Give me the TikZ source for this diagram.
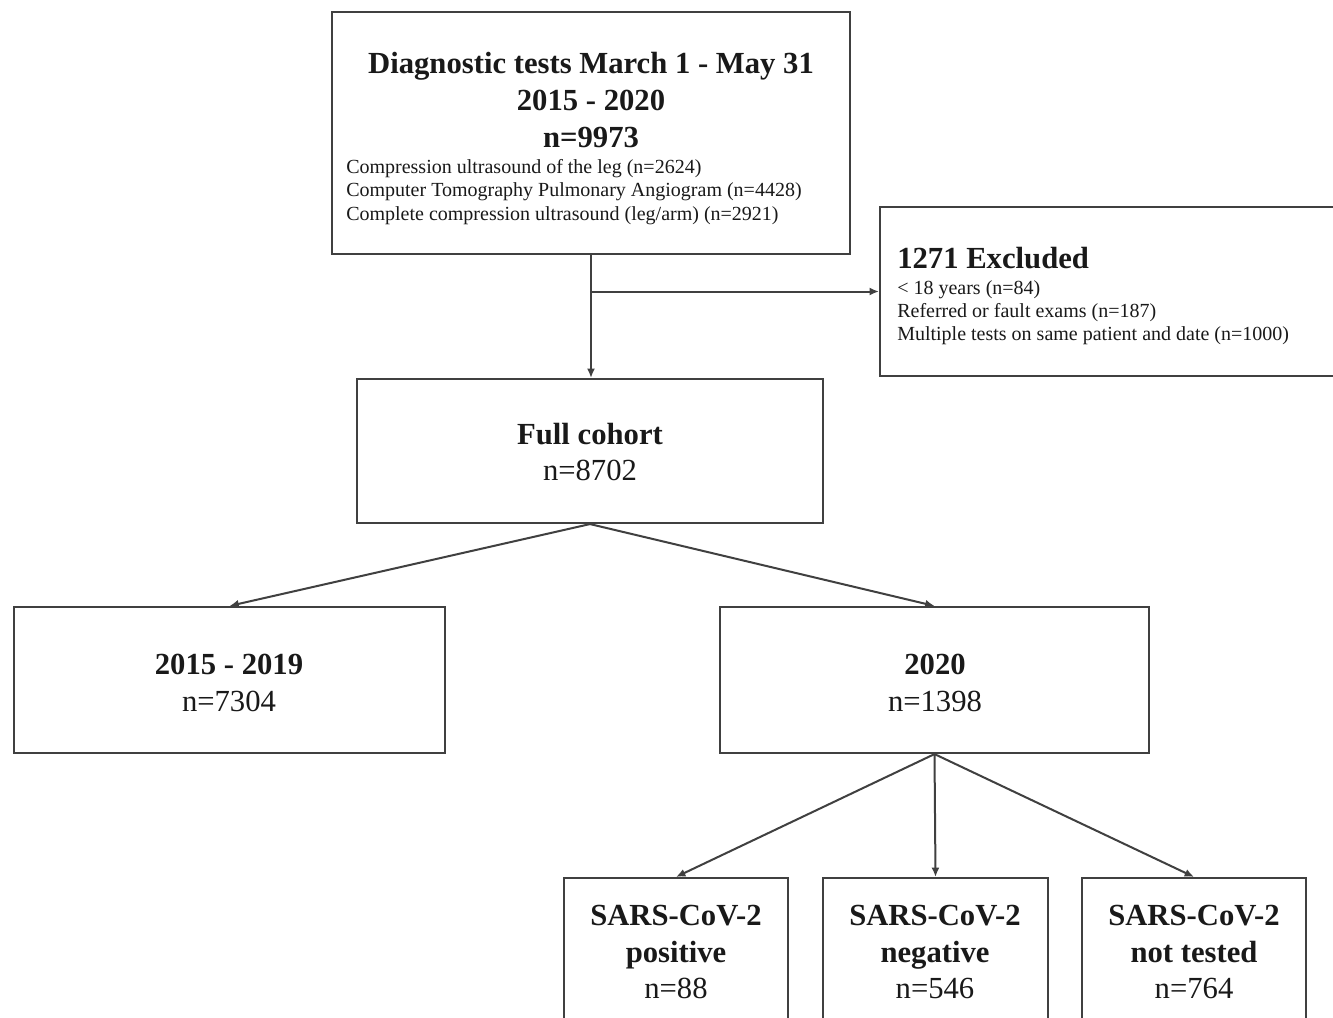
\documentclass[tikz,border=0pt]{standalone}
\usepackage{fontspec}
\setmainfont{Liberation Serif}
\usetikzlibrary{arrows.meta,fit}
\begin{document}
\begin{tikzpicture}[x=0.75pt,y=-0.75pt,
 box/.style={draw=black!75,line width=1.6pt,inner sep=0pt},
 big/.style={font=\fontsize{23}{27.5}\selectfont,align=center,inner sep=0pt,text=black!90},
 small/.style={font=\fontsize{15}{17.5}\selectfont,align=left,inner sep=0pt,anchor=west,text=black!90},
 conn/.style={draw=black!75,line width=1.5pt,-{Latex[length=7pt,width=6pt]}}]
\useasboundingbox[fill=white] (0,0) rectangle (1333,1017);
% boxes
\node[box,fit={(332,12)(850,254)}] (top) {};
\node[box,fit={(880,207)(1350,376)}] (excl) {};
\node[box,fit={(357,379)(823,523)}] (full) {};
\node[box,fit={(14,607)(445,753)}] (y15) {};
\node[box,fit={(720,607)(1149,753)}] (y20) {};
\node[box,fit={(564,878)(788,1040)}] (pos) {};
\node[box,fit={(823,878)(1048,1040)}] (neg) {};
\node[box,fit={(1082,878)(1306,1040)}] (nt) {};
% texts
\node[big] (toptitle) at (591,100) {\textbf{Diagnostic tests March 1 - May 31}\\\textbf{2015 - 2020}\\\textbf{n=9973}};
\node[small] (toplist) at (346,192) {Compression ultrasound of the leg (n=2624)\\Computer Tomography Pulmonary Angiogram (n=4428)\\Complete compression ultrasound (leg/arm) (n=2921)};
\node[big,anchor=west] (excltitle) at (897,258) {\textbf{1271 Excluded}};
\node[small,font=\fontsize{15}{17.3}\selectfont] (excllist) at (897,313) {< 18 years (n=84)\\Referred or fault exams (n=187)\\Multiple tests on same patient and date (n=1000)};
\node[big] (fulltext) at (590,452) {\textbf{Full cohort}\\n=8702};
\node[big] (y15text) at (229,683) {\textbf{2015 - 2019}\\n=7304};
\node[big] (y20text) at (935,683) {\textbf{2020}\\n=1398};
\node[big] (postext) at (676,952) {\textbf{SARS-CoV-2}\\\textbf{positive}\\n=88};
\node[big] (negtext) at (935,952) {\textbf{SARS-CoV-2}\\\textbf{negative}\\n=546};
\node[big] (nttext) at (1194,952) {\textbf{SARS-CoV-2}\\\textbf{not tested}\\n=764};
% connectors
\draw[conn] (top.south) -- (top.south |- full.north);
\draw[conn] (top.south |- excl.west) -- (excl.west);
\draw[conn] (full.south) -- (y15.north);
\draw[conn] (full.south) -- (y20.north);
\draw[conn] (y20.south) -- (pos.north);
\draw[conn] (y20.south) -- (neg.north);
\draw[conn] (y20.south) -- (nt.north);
\end{tikzpicture}
\end{document}
